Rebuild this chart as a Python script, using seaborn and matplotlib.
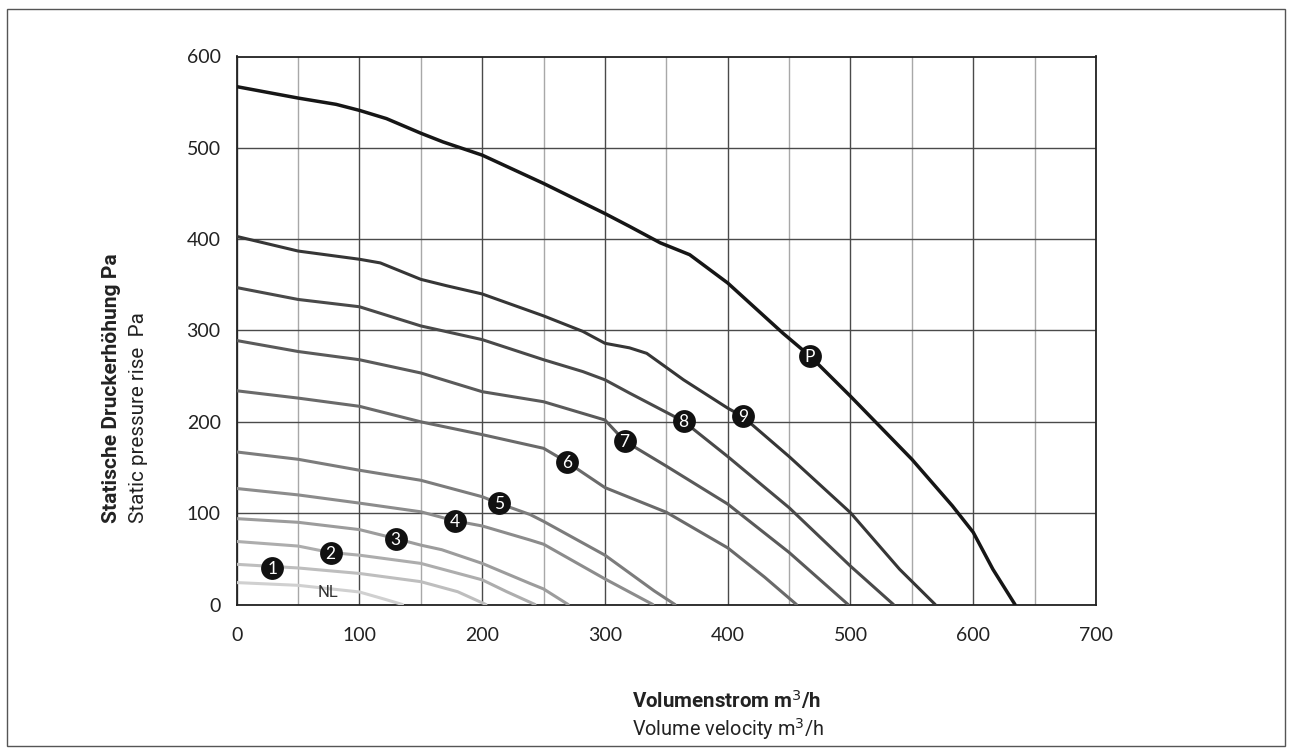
import numpy as np
import pandas as pd
import matplotlib
matplotlib.use("Agg")
import matplotlib.pyplot as plt
from matplotlib.patches import Rectangle
from matplotlib.ticker import MultipleLocator
import seaborn as sns

# ---- data ----
curve_names = ["NL", "1", "2", "3", "4", "5", "6", "7", "8", "9", "P"]

x_nl = [0, 50, 100, 120, 135]
y_nl = [24, 21, 13.7, 6, 0]
x_1 = [0, 50, 100, 150, 180, 203]
y_1 = [44, 40, 34, 25, 14, 0]
x_2 = [0, 50, 76, 100, 150, 200, 220, 243]
y_2 = [69, 64, 57, 54, 45, 27, 14, 0]
x_3 = [0, 50, 100, 130, 150, 167, 200, 239, 250, 270]
y_3 = [94, 90, 82, 72, 65, 60, 45, 23, 17, 0]
x_4 = [0, 50, 100, 150, 178, 200, 239, 250, 300, 339]
y_4 = [127, 120, 111, 101.5, 91.5, 86, 70.6, 66, 28, 0]
x_5 = [0, 50, 100, 150, 200, 213, 239, 250, 300, 340, 357]
y_5 = [167, 159, 147, 136, 118, 111, 98.5, 91, 54, 15, 0]
x_6 = [0, 50, 100, 150, 200, 250, 269, 300, 350, 400, 430, 456]
y_6 = [234, 226, 217, 200, 186, 171, 156, 128, 101, 62, 30, 0]
x_7 = [0, 50, 100, 150, 200, 250, 300, 316, 350, 400, 450, 498]
y_7 = [289, 277, 268, 253.5, 233, 222, 202, 179, 151.5, 110, 57, 0]
x_8 = [0, 50, 100, 150, 200, 250, 282, 300, 320, 364, 400, 450, 500, 535]
y_8 = [347, 334, 326, 305, 290, 268, 255, 246, 231.5, 200.6, 162, 106, 42, 0]
x_9 = [0, 50, 100, 117, 150, 171, 200, 250, 282, 300, 320, 334, 364, 400, 412,
       450, 500, 540, 569]
y_9 = [403, 387, 378, 374, 356, 349, 340, 316, 299, 286, 281, 275, 246, 215, 206,
       162, 100.5, 38.6, 0]
x_p = [0, 50, 81, 100, 122, 150, 168, 200, 250, 300, 320, 345, 369, 400, 445,
       467, 500, 550, 583, 600, 616, 634]
y_p = [567, 554.5, 547.6, 541, 532, 516, 506.5, 492, 461, 428, 414, 396, 383, 352,
       297, 272, 228, 159, 108, 79, 38.6, 0]

curve_x = [x_nl, x_1, x_2, x_3, x_4, x_5, x_6, x_7, x_8, x_9, x_p]
curve_y = [y_nl, y_1, y_2, y_3, y_4, y_5, y_6, y_7, y_8, y_9, y_p]

# marker labels on the curves
marker_text = ["1", "2", "3", "4", "5", "6", "7", "8", "9", "P"]
marker_x = [29, 76.5, 129.5, 178, 213.5, 269, 316, 364, 412.5, 467]
marker_y = [39.6, 56, 72, 91.5, 111, 156, 179, 200.6, 206, 272]
nl_label_xy = (74, 13)

x_ticks = [0, 100, 200, 300, 400, 500, 600, 700]
y_ticks = [0, 100, 200, 300, 400, 500, 600]

ylabel_de = "Statische Druckerhöhung Pa"
ylabel_en = "Static pressure rise  Pa"
xlabel_de = "Volumenstrom m$^3$/h"
xlabel_en = "Volume velocity m$^3$/h"

# ---- styling ----
colors = ["#d0d0d0", "#bebebe", "#adadad", "#9c9c9c", "#8c8c8c", "#7c7c7c",
          "#6a6a6a", "#5a5a5a", "#494949", "#363636", "#161616"]
widths = [2.2, 2.2, 2.2, 2.2, 2.2, 2.2, 2.2, 2.2, 2.2, 2.2, 2.5]

sns.set_theme(style="white")
plt.rcParams["font.family"] = ["Lato", "DejaVu Sans"]

fig = plt.figure(figsize=(12.9, 7.51), dpi=100)
W, H = 1290, 751
ax = fig.add_axes([236.7 / W, (H - 604.5) / H, (1096 - 236.7) / W, (604.5 - 56.5) / H])

for name, xs, ys, c, lw in zip(curve_names, curve_x, curve_y, colors, widths):
    df = pd.DataFrame({"x": xs, "y": ys})
    sns.lineplot(data=df, x="x", y="y", ax=ax, color=c, lw=lw, sort=False,
                 estimator=None, zorder=3, solid_joinstyle="round")

ax.scatter(marker_x, marker_y, s=270, color="#111111", zorder=5, linewidths=0)
for t, mx, my in zip(marker_text, marker_x, marker_y):
    ax.text(mx, my - 1, t, color="white", fontsize=12.5, ha="center", va="center",
            zorder=6)
ax.text(nl_label_xy[0], nl_label_xy[1], "NL", color="#333333", fontsize=12,
        ha="center", va="center", zorder=6, family=["Roboto", "DejaVu Sans"])

ax.set_xlim(0, 700)
ax.set_ylim(0, 600)
ax.set_xticks(x_ticks)
ax.set_yticks(y_ticks)
ax.xaxis.set_minor_locator(MultipleLocator(50))
ax.grid(which="major", axis="both", color="#4a4a4a", lw=1.0, zorder=1)
ax.grid(which="minor", axis="x", color="#a8a8a8", lw=1.0, zorder=1)
ax.set_axisbelow(True)
ax.tick_params(which="both", length=0)
ax.tick_params(axis="x", pad=16, labelsize=14, labelcolor="#222222")
ax.tick_params(axis="y", pad=11.5, labelsize=14, labelcolor="#222222")
for s in ax.spines.values():
    s.set_color("#222222")
    s.set_linewidth(1.3)
ax.set_xlabel("")
ax.set_ylabel("")

lab_font = ["Roboto", "DejaVu Sans"]
t1 = fig.text(112 / W, 1 - 523 / H, ylabel_de, rotation=90,
              ha="center", va="bottom", fontsize=14, fontweight="bold",
              color="#222222", family=lab_font)
t2 = fig.text(138 / W, 1 - 523 / H, ylabel_en, rotation=90,
              ha="center", va="bottom", fontsize=14, color="#222222",
              family=lab_font)
t3 = fig.text(631.5 / W, 1 - 700 / H, xlabel_de, ha="left", va="center",
              fontsize=14, fontweight="bold", color="#222222", family=lab_font)
t4 = fig.text(631.5 / W, 1 - 729 / H, xlabel_en, ha="left", va="center",
              fontsize=14, color="#222222", family=lab_font)

# scale label sizes to the lengths measured on the reference (pixels)
renderer = fig.canvas.get_renderer()
for t, target, vertical in [(t1, 270, True), (t2, 213, True),
                            (t3, 190, False), (t4, 193, False)]:
    bb = t.get_window_extent(renderer)
    cur = bb.height if vertical else bb.width
    t.set_fontsize(t.get_fontsize() * target / cur)

fig.patches.append(Rectangle((6.7 / W, 1 - 746 / H), (1285 - 6.7) / W, (746 - 9) / H,
                             transform=fig.transFigure, fill=False,
                             edgecolor="#555555", lw=1.0))

fig.savefig("out.png", dpi=100)
